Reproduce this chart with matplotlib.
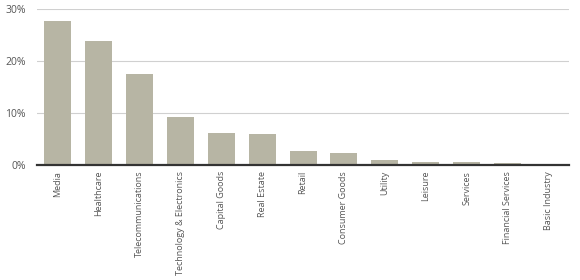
import matplotlib
matplotlib.use("Agg")
import matplotlib.pyplot as plt
from matplotlib.ticker import FuncFormatter

categories = ["Media", "Healthcare", "Telecommunications", "Technology & Electronics",
              "Capital Goods", "Real Estate", "Retail", "Consumer Goods", "Utility",
              "Leisure", "Services", "Financial Services", "Basic Industry"]
values = [27.7, 23.8, 17.5, 9.35, 6.27, 6.0, 2.75, 2.35, 1.02, 0.63, 0.6, 0.45, 0.25]
yticks = [0, 10, 20, 30]

plt.rcParams['font.family'] = ['Open Sans', 'DejaVu Sans']

fig = plt.figure(figsize=(5.8, 2.8), dpi=100)
ax = fig.add_axes([0.064, 0.41, 0.917, 0.557])

x = list(range(len(categories)))
ax.bar(x, values, width=0.66, color="#b7b5a4", zorder=2)

ax.set_xlim(-0.5, len(categories) - 0.5)
ax.set_ylim(0, 30)
ax.set_yticks(yticks)
ax.yaxis.set_major_formatter(FuncFormatter(lambda v, p: f"{int(v)}%"))
ax.grid(axis="y", color="#d0d0d0", linewidth=0.8, zorder=0)
ax.set_axisbelow(True)

for s in ["top", "right", "left"]:
    ax.spines[s].set_visible(False)
ax.spines["bottom"].set_color("#333333")
ax.spines["bottom"].set_linewidth(1.6)
ax.spines["bottom"].set_zorder(3)

ax.set_xticks(x)
ax.set_xticklabels(categories, rotation=90, ha="center", va="top", fontsize=6.5, color="#555555")
ax.tick_params(axis="x", length=0, pad=4)
ax.tick_params(axis="y", length=0, pad=8, labelsize=7.5, labelcolor="#555555")

fig.savefig("out.png", dpi=100)
